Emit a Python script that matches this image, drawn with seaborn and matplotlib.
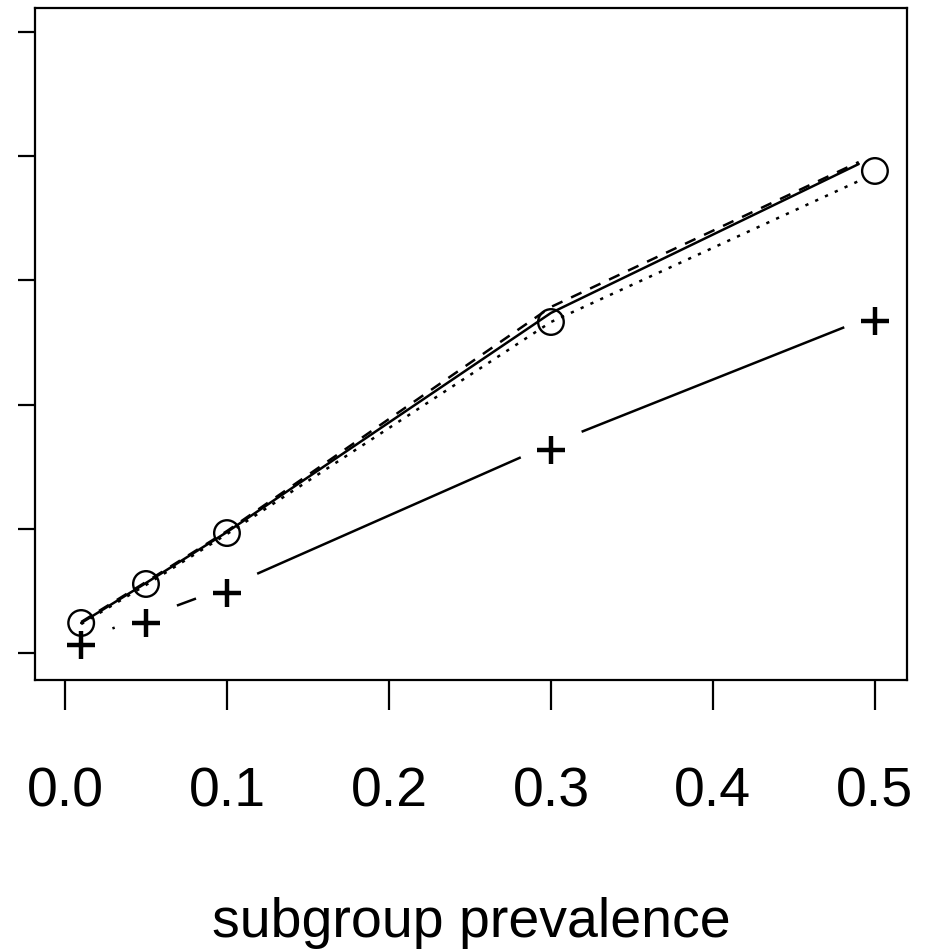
import numpy as np
import pandas as pd
import seaborn as sns
import matplotlib.pyplot as plt
from matplotlib.transforms import ScaledTranslation

# values (y axis has no labels, units = tick steps)
prevalence = [0.01, 0.05, 0.1, 0.3, 0.5]
curve_x = [0.01, 0.05, 0.1, 0.3, 0.49]
solid_y = [0.242, 0.564, 0.974, 2.738, 3.937]
dashed_y = [0.250, 0.572, 0.982, 2.786, 3.953]
dotted_y = [0.233, 0.548, 0.958, 2.665, 3.800]
circle_y = [0.242, 0.556, 0.966, 2.665, 3.881]
plus_y = [0.113, 0.290, 0.531, 1.683, 2.721]

x_ticks = [0.0, 0.1, 0.2, 0.3, 0.4, 0.5]
x_labels = ["0.0", "0.1", "0.2", "0.3", "0.4", "0.5"]
y_ticks = [0, 1, 2, 3, 4, 5]

sns.set_style("white")
plt.rcParams['font.family'] = ['Liberation Sans', 'DejaVu Sans']
plt.rcParams['text.color'] = 'black'
plt.rcParams['xtick.color'] = 'black'
plt.rcParams['ytick.color'] = 'black'
plt.rcParams['axes.labelcolor'] = 'black'

fig = plt.figure(figsize=(9.26, 9.52), dpi=100)
ax = fig.add_axes([35 / 926, 1 - 680 / 952, 872 / 926, 672 / 952])
ax.set_xlim(-0.0185, 0.5198)
ax.set_ylim(-0.217, 5.193)

curves = pd.DataFrame({"x": curve_x, "solid": solid_y, "dashed": dashed_y, "dotted": dotted_y})

sns.lineplot(data=curves, x="x", y="dashed", ax=ax, color="black", lw=1.8,
             linestyle=(0, (4.6, 3.8)))
sns.lineplot(data=curves, x="x", y="solid", ax=ax, color="black", lw=1.8)
sns.lineplot(data=curves, x="x", y="dotted", ax=ax, color="black", lw=1.8,
             linestyle=(0, (1.3, 3.0)))

sns.scatterplot(x=prevalence, y=circle_y, ax=ax, marker="o", s=340,
                facecolors="none", edgecolor="black", linewidth=1.7)

# type="b" style line: segments broken around each point
gap = 33
pts = ax.transData.transform(np.column_stack([prevalence, plus_y]))
inv = ax.transData.inverted()
for p0, p1 in zip(pts[:-1], pts[1:]):
    d = p1 - p0
    L = np.hypot(*d)
    if L <= 2 * gap:
        continue
    u = d / L
    seg = inv.transform(np.array([p0 + u * gap, p1 - u * gap]))
    ax.plot(seg[:, 0], seg[:, 1], color="black", lw=1.8, solid_capstyle="butt")

sns.scatterplot(x=prevalence, y=plus_y, ax=ax, marker="+", s=430,
                color="black", linewidth=3.2)
# the "+" character sits a little below its point
ax.collections[-1].set_offset_transform(
    ax.transData + ScaledTranslation(0, -6 / 100, fig.dpi_scale_trans))

for side in ["left", "right", "top", "bottom"]:
    ax.spines[side].set_visible(True)
    ax.spines[side].set_color("black")
    ax.spines[side].set_linewidth(1.6)

ax.set_xticks(x_ticks)
ax.set_xticklabels(x_labels, fontsize=40)
ax.set_yticks(y_ticks)
ax.set_yticklabels([])
ax.tick_params(axis="x", direction="out", length=21.6, width=1.6, pad=41, bottom=True)
ax.tick_params(axis="y", direction="out", length=12.5, width=1.6, left=True)
ax.set_xlabel("subgroup prevalence", fontsize=40, labelpad=56)
ax.set_ylabel("")

fig.savefig("out.png", dpi=100)
